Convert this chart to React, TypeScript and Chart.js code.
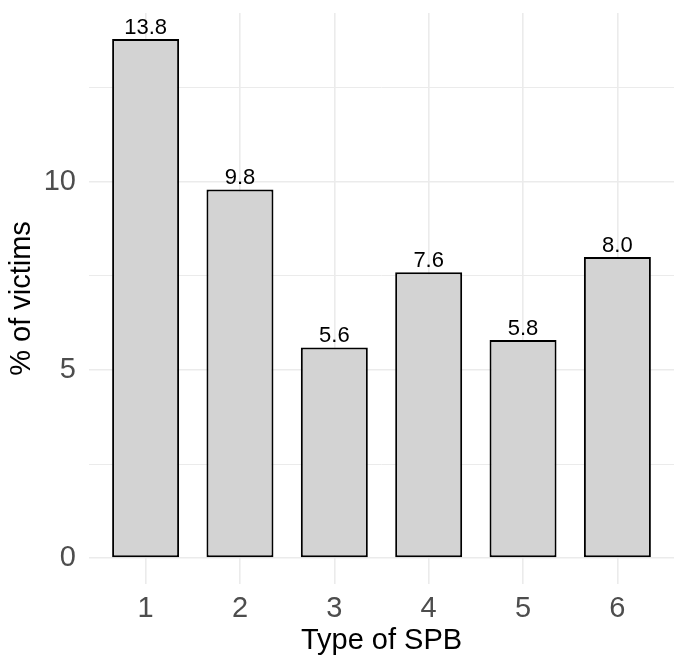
import React, { useEffect, useRef } from "react";
import { Chart, registerables } from "chart.js";

Chart.register(...registerables);

const categories = [1, 2, 3, 4, 5, 6];
const values = [13.8, 9.8, 5.6, 7.6, 5.8, 8.0];
const yTicks = [0, 2.5, 5, 7.5, 10, 12.5];
const yLabelled = [0, 5, 10];
const xTitle = "Type of SPB";
const yTitle = "% of victims";

const FONT = "'Liberation Sans', Arial, Helvetica, sans-serif";

const barLabels = {
  id: "barLabels",
  afterDatasetsDraw(chart: any) {
    const ctx = chart.ctx;
    const meta = chart.getDatasetMeta(0);
    ctx.save();
    ctx.fillStyle = "#000000";
    ctx.font = `22px ${FONT}`;
    ctx.textAlign = "center";
    ctx.textBaseline = "alphabetic";
    meta.data.forEach((el: any, i: number) => {
      ctx.fillText(values[i].toFixed(1), el.x, el.y - 5);
    });
    ctx.restore();
  },
};

export default function App() {
  const ref = useRef<HTMLCanvasElement | null>(null);
  useEffect(() => {
    if (!ref.current) return;
    const chart = new Chart(ref.current, {
      type: "bar",
      data: {
        datasets: [
          {
            data: categories.map((c, i) => ({ x: c, y: values[i] })),
            backgroundColor: "#D3D3D3",
            borderColor: "#000000",
            borderWidth: 2,
            borderSkipped: false,
            barPercentage: 0.71,
            categoryPercentage: 1,
          },
        ],
      },
      options: {
        responsive: false,
        animation: false,
        layout: { padding: { top: 13, right: 11, left: 0, bottom: 0 } },
        plugins: {
          legend: { display: false },
          tooltip: { enabled: false },
        },
        scales: {
          x: {
            type: "linear",
            offset: false,
            min: 0.4,
            max: 6.6,
            afterBuildTicks: (scale: any) => {
              scale.ticks = categories.map((v) => ({ value: v }));
            },
            afterFit: (scale: any) => {
              scale.height = 84;
              scale.paddingLeft = 0;
              scale.paddingRight = 0;
            },
            grid: {
              color: "#EBEBEB",
              lineWidth: 1.6,
              drawTicks: false,
              offset: false,
            },
            border: { display: false },
            ticks: {
              color: "#4D4D4D",
              font: { family: FONT, size: 29 },
              padding: 8,
              callback: (v: any) => String(v),
            },
            title: {
              display: true,
              text: xTitle,
              color: "#000000",
              font: { family: FONT, size: 29 },
              padding: { top: 0, bottom: 10 },
            },
          },
          y: {
            type: "linear",
            min: -0.69,
            max: 14.49,
            afterBuildTicks: (scale: any) => {
              scale.ticks = yTicks.map((v) => ({ value: v }));
            },
            afterFit: (scale: any) => {
              scale.width = 89;
              scale.paddingTop = 0;
              scale.paddingBottom = 0;
            },
            grid: {
              color: "#EBEBEB",
              lineWidth: (ctx: any) =>
                ctx.tick && yLabelled.includes(ctx.tick.value) ? 1.6 : 1.0,
              drawTicks: false,
            },
            border: { display: false },
            ticks: {
              color: "#4D4D4D",
              font: { family: FONT, size: 29 },
              padding: 13,
              callback: (v: any) =>
                yLabelled.includes(Number(v)) ? String(v) : "",
            },
            title: {
              display: true,
              text: yTitle,
              color: "#000000",
              font: { family: FONT, size: 29 },
              padding: { top: 5, bottom: 0 },
            },
          },
        },
      },
      plugins: [barLabels],
    });
    return () => chart.destroy();
  }, []);
  return (
    <div style={{ position: "absolute", left: 0, top: 0, width: 685, height: 668, background: "#fff" }}>
      <canvas ref={ref} width={685} height={668} />
    </div>
  );
}
